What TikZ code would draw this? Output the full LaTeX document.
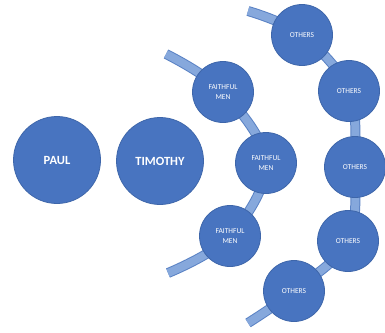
\documentclass[tikz,border=0pt]{standalone}
\usepackage{fontspec}
\setmainfont{Carlito}
\definecolor{cfill}{HTML}{4874C0}
\definecolor{cedge}{HTML}{3E66AA}
\definecolor{bandfill}{HTML}{86A8DC}
\definecolor{bandedge}{HTML}{5A82C4}
\tikzset{
  circ/.style={circle, fill=cfill, draw=cedge, line width=0.8pt, inner sep=0pt, text=white, align=center},
  big/.style={circ, minimum size=87pt, font=\bfseries\fontsize{12.5}{14}\selectfont},
  small/.style={circ, minimum size=61pt, font=\fontsize{7.5}{10}\selectfont},
  bandout/.style={draw=bandedge, line width=10pt},
  bandin/.style={draw=bandfill, line width=8pt},
}
\begin{document}
\begin{tikzpicture}[x=1pt,y=-1pt]
\useasboundingbox (0,0) rectangle (385,332);
% centers
\coordinate (fa) at (166,54);
\coordinate (f1c) at (223,92);
\coordinate (f2c) at (266,163);
\coordinate (f3c) at (230,236);
\coordinate (fb) at (168,273);
\coordinate (oa) at (248,11);
\coordinate (o1c) at (302,35);
\coordinate (o2c) at (349,91);
\coordinate (o3c) at (355,167);
\coordinate (o4c) at (348,241);
\coordinate (o5c) at (294,291);
\coordinate (ob) at (248,323);
% bands
\foreach \s in {bandout,bandin}{
  \draw[\s] plot[smooth, tension=0.6] coordinates {(fa) (f1c) (f2c) (f3c) (fb)};
  \draw[\s] plot[smooth, tension=0.6] coordinates {(oa) (o1c) (o2c) (o3c) (o4c) (o5c) (ob)};
}
% nodes
\node[big] (paul) at (57,160) {PAUL};
\node[big] (tim) at (160,161) {TIMOTHY};
\node[small] (f1) at (f1c) {FAITHFUL\\MEN};
\node[small] (f2) at (f2c) {FAITHFUL\\MEN};
\node[small] (f3) at (f3c) {FAITHFUL\\MEN};
\node[small] (o1) at (o1c) {OTHERS};
\node[small] (o2) at (o2c) {OTHERS};
\node[small] (o3) at (o3c) {OTHERS};
\node[small] (o4) at (o4c) {OTHERS};
\node[small] (o5) at (o5c) {OTHERS};
\end{tikzpicture}
\end{document}
